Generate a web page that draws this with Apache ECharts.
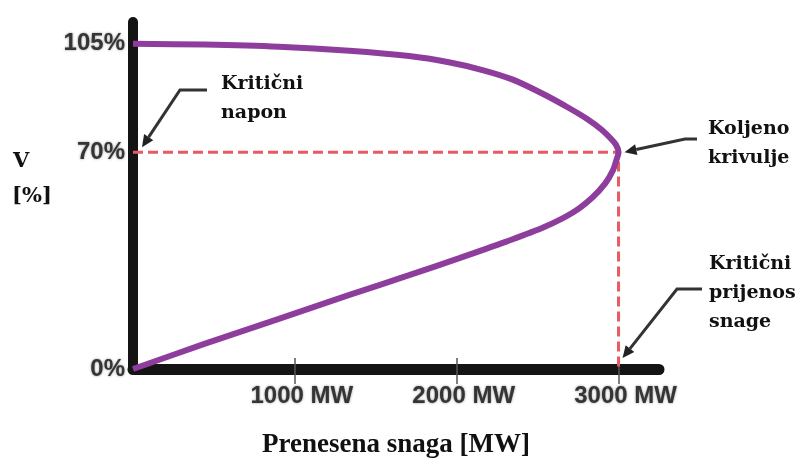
<!DOCTYPE html>
<html>
<head>
<meta charset="utf-8">
<script src="https://cdn.jsdelivr.net/npm/echarts@6/dist/echarts.min.js"></script>
<style>
html,body{margin:0;padding:0;background:#fff;}
#chart{width:811px;height:462px;}
</style>
</head>
<body>
<div id="chart"></div>
<script>
// Upper (stable) branch of the P-V curve: transferred power [MW], voltage [%]
const upperMW = [0, 441, 901, 1337, 1706, 1951, 2159, 2347, 2541, 2688, 2806, 2894, 2959, 2985, 3000];
const upperV  = [105, 104.7, 104.0, 102.7, 101.0, 99.0, 96.5, 93.4, 88.6, 84.4, 80.7, 77.3, 74.0, 72.3, 70];
// Lower (unstable) branch, from the knee back to the origin
const lowerMW = [2985, 2966, 2918, 2835, 2718, 2541, 2306, 2012, 1706, 1337, 901, 441, 0];
const lowerV  = [67.2, 64.2, 59.9, 55.2, 50.5, 45.8, 41.1, 35.7, 30.3, 23.9, 16.2, 8.1, 0];
// Critical point (knee of the curve)
const criticalMW = 3000;
const criticalV = 70;
// Tick values
const xTicks = [1000, 2000, 3000];
const yTicks = [0, 70, 105];

const curve = upperMW.map((x, i) => [x, upperV[i]])
  .concat(lowerMW.map((x, i) => [x, lowerV[i]]));
const critLines = [[0, criticalV], [criticalMW, criticalV], [criticalMW, 0]];

const chart = echarts.init(document.getElementById('chart'));
const labelStyle = {
  color: '#353535', fontFamily: 'Liberation Sans', fontWeight: 'bold', fontSize: 24,
  textShadowColor: 'rgba(0,0,0,0.45)', textShadowBlur: 2.5
};
chart.setOption({
  backgroundColor: '#fff',
  animation: false,
  grid: { left: 133, right: 152, top: 22, bottom: 93 },
  xAxis: [{
    type: 'value', min: 0, max: 3250, interval: 1000,
    axisLine: { lineStyle: { color: '#141414', width: 11 } },
    axisTick: { show: true, inside: true, length: 11, customValues: xTicks,
      lineStyle: { color: '#555', width: 1.5 } },
    axisLabel: Object.assign({ customValues: xTicks, margin: 15,
      padding: [0, 0, 0, 14], formatter: v => v + ' MW' }, labelStyle),
    splitLine: { show: false }
  }, {
    type: 'value', min: 0, max: 3250, position: 'bottom', gridIndex: 0,
    axisLine: { show: false },
    axisTick: { show: true, inside: false, length: 15, customValues: xTicks,
      lineStyle: { color: '#555', width: 1.5 } },
    axisLabel: { show: false },
    splitLine: { show: false }
  }],
  yAxis: {
    type: 'value', min: 0, max: 112,
    axisLine: { show: true, lineStyle: { color: '#141414', width: 10 } },
    axisTick: { show: false },
    axisLabel: Object.assign({ customValues: yTicks, margin: 8,
      formatter: v => v + '%' }, labelStyle),
    splitLine: { show: false }
  },
  series: [{
    type: 'line', data: critLines, symbol: 'none', z: 2,
    lineStyle: { color: '#E85A62', width: 3, type: [10, 5] }
  }, {
    type: 'line', data: curve, symbol: 'none', smooth: 0.3, z: 3,
    lineStyle: { color: '#8E3D9C', width: 6 }
  }]
});

const p70 = chart.convertToPixel({ gridIndex: 0 }, [0, criticalV]);
const pKnee = chart.convertToPixel({ gridIndex: 0 }, [criticalMW, criticalV]);
const pCrit = chart.convertToPixel({ gridIndex: 0 }, [criticalMW, 0]);

function arrow(pts, tip) {
  const last = pts[pts.length - 1];
  const ang = Math.atan2(tip[1] - last[1], tip[0] - last[0]);
  const L = 12, W = 5.5;
  const bx = tip[0] - L * Math.cos(ang), by = tip[1] - L * Math.sin(ang);
  const nx = -Math.sin(ang) * W, ny = Math.cos(ang) * W;
  return [{
    type: 'polyline', shape: { points: pts.concat([[bx, by]]) },
    style: { stroke: '#333', lineWidth: 3, fill: null }, z: 10
  }, {
    type: 'polygon', shape: { points: [tip, [bx + nx, by + ny], [bx - nx, by - ny]] },
    style: { fill: '#222' }, z: 10
  }];
}
const serif = { fontFamily: 'DejaVu Serif', fontWeight: 'bold', fontSize: 19, fill: '#111' };
function txt(x, y, s, extra) {
  return { type: 'text', left: x, top: y, z: 10,
    style: Object.assign({ text: s, lineHeight: 29 }, serif, extra || {}) };
}
const graphics = [].concat(
  arrow([[207, 90], [180, 90]], [p70[0] + 9, p70[1] - 5]),
  arrow([[697, 139], [685, 139]], [pKnee[0] + 6, pKnee[1]]),
  arrow([[702, 289], [677, 289]], [pCrit[0] + 4, pCrit[1] - 11]),
  [
    txt(221, 70, 'Kritični\nnapon'),
    txt(708, 115, 'Koljeno\nkrivulje'),
    txt(709, 250, 'Kritični\nprijenos\nsnage'),
    txt(13, 151, 'V', { fontSize: 21, lineHeight: 21 }),
    txt(12, 186, '[%]', { fontSize: 21, lineHeight: 21 }),
    { type: 'text', left: 262, top: 432, z: 10,
      style: { text: 'Prenesena snaga [MW]', fontFamily: 'Liberation Serif',
        fontWeight: 'bold', fontSize: 27, fill: '#111' } }
  ]
);
chart.setOption({ graphic: graphics });
</script>
</body>
</html>
